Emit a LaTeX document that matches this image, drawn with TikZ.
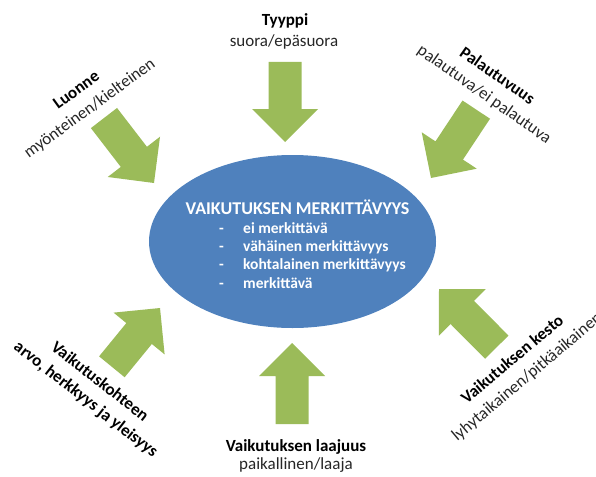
\documentclass[tikz,border=0pt]{standalone}
\usepackage{fontspec}
\setmainfont{Carlito}
\usetikzlibrary{shapes.geometric}
\definecolor{arrowgreen}{HTML}{9BBB59}
\definecolor{ellblue}{HTML}{4F81BD}
\definecolor{txtgray}{HTML}{262626}
\begin{document}
\begin{tikzpicture}[x=1pt,y=-1pt,
  lab/.style={font=\fontsize{17}{22.5}\selectfont, align=center, inner sep=0pt, text=txtgray},
  labb/.style={font=\fontsize{17}{20.5}\selectfont\bfseries, inner sep=0pt, text=black},
  labr/.style={font=\fontsize{17}{20.5}\selectfont, inner sep=0pt, text=txtgray},
  etitle/.style={font=\fontsize{18}{20}\selectfont\bfseries, text=white, inner sep=0pt, anchor=base},
  eitem/.style={font=\fontsize{15.5}{18}\selectfont\bfseries, text=white, inner sep=0pt, anchor=base west},
  pics/garrow/.style={code={
    \fill[arrowgreen] (-#1,-16.5) -- (-33,-16.5) -- (-33,-33) -- (0,0)
      -- (-33,33) -- (-33,16.5) -- (-#1,16.5) -- cycle;}}]
\useasboundingbox (0,0) rectangle (596,476);

% central ellipse
\node[ellipse, fill=ellblue, minimum width=287pt, minimum height=173pt, inner sep=0pt] (core) at (292.5,241.5) {};
\node[etitle] (title) at (297.5,214) {VAIKUTUKSEN MERKITTÄVYYS};
\foreach \i/\t [count=\k] in {0/ei merkittävä, 1/vähäinen merkittävyys, 2/kohtalainen merkittävyys, 3/merkittävä}{
  \node[eitem] (dash\k) at (219,233.3+18.3*\i) {-};
  \node[eitem] (item\k) at (243,233.3+18.3*\i) {\t};
}

% arrow tips
\coordinate (tipT) at (285,142);
\coordinate (tipB) at (292,343);
\coordinate (tipTL) at (154,183);
\coordinate (tipTR) at (431,178);
\coordinate (tipBL) at (160,308);
\coordinate (tipBR) at (439,289);
\pic[rotate=-90] at (tipT) {garrow=80};
\pic[rotate=90] at (tipB) {garrow=81};
\pic[rotate=-52.4] at (tipTL) {garrow=82};
\pic[rotate=-123.5] at (tipTR) {garrow=82};
\pic[rotate=50.7] at (tipBL) {garrow=76};
\pic[rotate=134.8] at (tipBR) {garrow=82};

% labels
\node[labb, anchor=base] (tyyppi) at (285,26) {Tyyppi};
\node[labr, anchor=base] (tyyppi2) at (284,46.5) {suora/epäsuora};
\node[labb, anchor=base] (laaj) at (296,451) {Vaikutuksen laajuus};
\node[labr, anchor=base] (laaj2) at (296,469) {paikallinen/laaja};
\node[lab, rotate=36] (luonne) at (83.5,100) {\textbf{\color{black}Luonne}\\myönteinen/kielteinen};
\node[lab, rotate=-35] (palaut) at (490.5,85.5) {\textbf{\color{black}Palautuvuus}\\palautuva/ei palautuva};
\node[lab, rotate=-38, font=\fontsize{17}{22.5}\selectfont\bfseries, text=black] (kohde) at (92.5,391) {Vaikutuskohteen\\arvo, herkkyys ja yleisyys};
\node[lab, rotate=40] (kesto) at (520,368.5) {\textbf{\color{black}Vaikutuksen kesto}\\lyhytaikainen/pitkäaikainen};
\end{tikzpicture}
\end{document}
